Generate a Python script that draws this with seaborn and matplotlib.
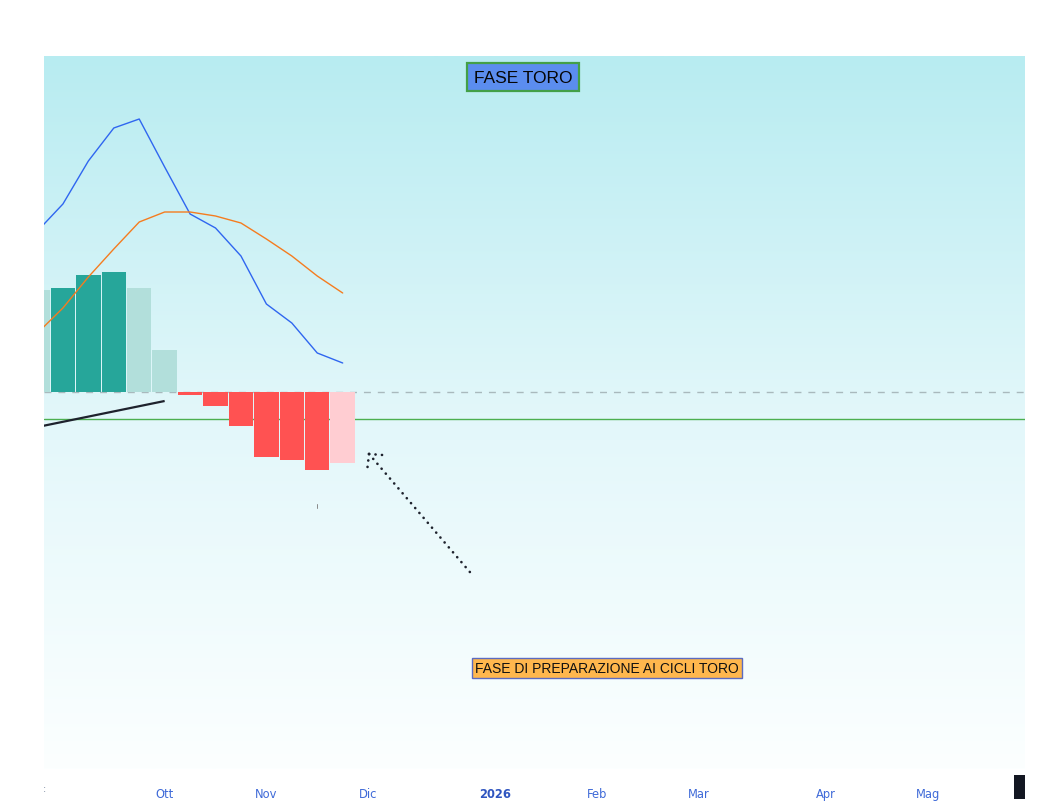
import numpy as np
import pandas as pd
import matplotlib
matplotlib.use("Agg")
import matplotlib.pyplot as plt
import matplotlib.dates as mdates
from matplotlib.colors import LinearSegmentedColormap
from matplotlib.patches import Rectangle
import seaborn as sns

# ---------------- data ----------------
week_dates = ["2025-09-01", "2025-09-08", "2025-09-15", "2025-09-22", "2025-09-29",
              "2025-10-06", "2025-10-13", "2025-10-20", "2025-10-27", "2025-11-03",
              "2025-11-10", "2025-11-17", "2025-11-24"]
hist_values = [102, 104, 117, 120, 104, 42, -3, -14, -34, -65, -68, -78, -71]
hist_kind = ["grow_pos_weak", "pos_strong", "pos_strong", "pos_strong", "pos_weak",
             "pos_weak", "neg_strong", "neg_strong", "neg_strong", "neg_strong",
             "neg_strong", "neg_strong", "neg_weak"]
macd_values = [161, 188, 231, 264, 273, 225, 178, 164, 136, 88, 69, 39, 29]
signal_values = [59, 84, 115, 143, 170, 180, 180, 176, 169, 153, 136, 116, 99]

trend_dates = ["2025-09-01 00:00", "2025-10-06 00:00"]
trend_values = [-35, -9]

arrow_dates = ["2025-12-29 00:00", "2025-12-01 06:00"]
arrow_values = [-180, -62]
arrow_arm1_dates = ["2025-12-01 06:00", "2025-12-05 00:00"]
arrow_arm1_values = [-62, -63]
arrow_arm2_dates = ["2025-12-01 06:00", "2025-11-30 20:00"]
arrow_arm2_values = [-62, -75]

mark_date = "2025-11-17"
mark_values = [-112, -116]

zero_level = 0
green_level = -27

tick_dates = ["2025-10-06", "2025-11-03", "2025-12-01", "2026-01-05", "2026-02-02",
              "2026-03-02", "2026-04-06", "2026-05-04"]
tick_labels = ["Ott", "Nov", "Dic", "2026", "Feb", "Mar", "Apr", "Mag"]

x_start, x_end = "2025-09-02 19:00", "2026-05-30 19:00"
y_min, y_max = -377, 336

label_top = "FASE TORO"
label_bottom = "FASE DI PREPARAZIONE AI CICLI TORO"


def dnum(values):
    return mdates.date2num(pd.to_datetime(values, format="mixed"))


# ---------------- figure ----------------
sns.set_theme(style="white")
plt.rcParams["font.family"] = ["DejaVu Sans"]

W, H = 1048, 804
fig = plt.figure(figsize=(W / 100, H / 100), dpi=100)
fig.patch.set_facecolor("white")

left, right, top, bottom = 44, 1025, 57, 770
pos = [left / W, 1 - bottom / H, (right - left) / W, (bottom - top) / H]

bg = fig.add_axes(pos, zorder=0)
cmap = LinearSegmentedColormap.from_list("bg", ["#fcffff", "#e2f7fa", "#b8ecf1"])
grad = np.linspace(0, 1, 256).reshape(-1, 1)
bg.imshow(grad, aspect="auto", cmap=cmap, origin="lower", extent=[0, 1, 0, 1])
bg.set_axis_off()

ax = fig.add_axes(pos, zorder=1)
ax.set_facecolor("none")

xd = dnum(week_dates)
df = pd.DataFrame({"x": xd, "hist": hist_values, "kind": hist_kind,
                   "macd": macd_values, "signal": signal_values})

palette = {"grow_pos_weak": "#b2dfdb", "pos_strong": "#26a69a", "pos_weak": "#b2dfdb",
           "neg_strong": "#ff5252", "neg_weak": "#ffcdd2"}

ax.axhline(zero_level, color="#a9b9bd", lw=1, ls=(0, (5, 5)), zorder=1)
ax.axhline(green_level, color="#4caf50", lw=1, zorder=1)

sns.barplot(data=df, x="x", y="hist", hue="kind", palette=palette, native_scale=True,
            dodge=False, legend=False, saturation=1, width=0.96, linewidth=0,
            errorbar=None, ax=ax, zorder=2)

sns.lineplot(data=df, x="x", y="macd", color="#2f66f0", lw=1, ax=ax, zorder=3)
sns.lineplot(data=df, x="x", y="signal", color="#f57c1f", lw=1, ax=ax, zorder=3)

ax.plot(dnum(trend_dates), trend_values,
        color="#1e222d", lw=1.6, zorder=4, solid_capstyle="butt")

for dts, vals in [(arrow_dates, arrow_values), (arrow_arm1_dates, arrow_arm1_values),
                  (arrow_arm2_dates, arrow_arm2_values)]:
    ax.plot(dnum(dts), vals, color="#1e222d",
            lw=1.9, ls=(0, (0.05, 2.4)), zorder=4, dash_capstyle="round")

ax.plot(dnum([mark_date, mark_date]), mark_values,
        color="#8a8a8a", lw=0.7, zorder=4)

ax.text(0.4883, 0.9705, label_top, transform=ax.transAxes, ha="center", va="center",
        fontsize=12.5, family=["Liberation Sans", "DejaVu Sans"], color="#050505",
        bbox=dict(boxstyle="square,pad=0.4", facecolor="#5b8def",
                  edgecolor="#43a047", lw=1.6), zorder=6)
ax.text(0.5739, 0.1417, label_bottom, transform=ax.transAxes, ha="center", va="center",
        fontsize=10, family=["Liberation Sans", "DejaVu Sans"], color="#111111",
        bbox=dict(boxstyle="square,pad=0.2", facecolor="#ffb74d",
                  edgecolor="#5c6bc0", lw=1), zorder=6)

ax.set_xlim(dnum([x_start])[0], dnum([x_end])[0])
ax.set_ylim(y_min, y_max)
ax.set_xticks(dnum(tick_dates))
ax.set_xticklabels(tick_labels)
for lab in ax.get_xticklabels():
    lab.set_color("#3f6ad8")
    lab.set_fontsize(8.3)
    if lab.get_text() == "2026":
        lab.set_fontweight("bold")
        lab.set_color("#2f55c0")
ax.tick_params(axis="x", length=0, pad=13)
ax.set_yticks([])
ax.set_xlabel("")
ax.set_ylabel("")
for s in ax.spines.values():
    s.set_visible(False)

fig.text(44 / W, 1 - 789 / H, ":", fontsize=7, color="#7a8aa0", ha="center", va="center")
fig.patches.append(Rectangle((1014 / W, 1 - 800 / H), 11 / W, 24 / H,
                             transform=fig.transFigure, facecolor="#131722",
                             edgecolor="none"))

fig.savefig("out.png", dpi=100)
